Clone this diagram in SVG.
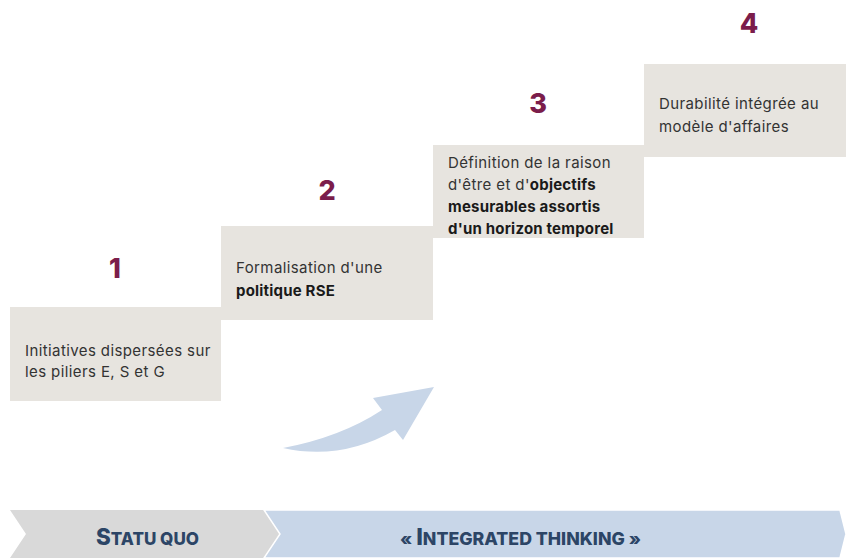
<svg xmlns="http://www.w3.org/2000/svg" width="846" height="558" viewBox="0 0 846 558">
<style>
.box{fill:#e7e4df}
.num{font-family:Inter,"Liberation Sans",sans-serif;font-weight:800;font-size:27px;fill:#7b1d4b;text-anchor:middle}
.t{font-family:Inter,"Open Sans",sans-serif;font-size:15px;letter-spacing:0.4px;fill:#333333}
.b{font-weight:700;fill:#1a1a1a;letter-spacing:0.2px}
.band{font-family:Inter,"Liberation Sans",Arial,sans-serif;font-weight:800;fill:#2c4566}
.big{font-size:23px}
.sm{font-size:17.5px}
</style>
<rect width="846" height="558" fill="#ffffff"/>
<g id="step1">
<rect class="box" x="10" y="307" width="211" height="94"/>
<text class="num" x="115" y="278">1</text>
<text class="t" x="25" y="356">Initiatives dispersées sur</text>
<text class="t" x="25" y="377">les piliers E, S et G</text>
</g>
<g id="step2">
<rect class="box" x="221" y="226" width="212" height="94"/>
<text class="num" x="327" y="200">2</text>
<text class="t" x="236" y="273">Formalisation d'une</text>
<text class="t b" x="236" y="296">politique RSE</text>
</g>
<g id="step3">
<rect class="box" x="433" y="145" width="211" height="93"/>
<text class="num" x="538" y="113">3</text>
<text class="t" x="448" y="168">Définition de la raison</text>
<text class="t" x="448" y="190">d'être et d'<tspan class="b">objectifs</tspan></text>
<text class="t b" x="448" y="212">mesurables assortis</text>
<text class="t b" x="448" y="234">d'un horizon temporel</text>
</g>
<g id="step4">
<rect class="box" x="644" y="64" width="202" height="93"/>
<text class="num" x="749" y="33">4</text>
<text class="t" x="659" y="109">Durabilité intégrée au</text>
<text class="t" x="659" y="132">modèle d'affaires</text>
</g>
<g id="connectors">
<path d="M283,448 Q341,437 382,410 L373,398 L434,387 L403,440 L395,430 Q341,461 283,448 Z" fill="#c8d6e8"/>
</g>
<g id="band-statu-quo">
<path d="M10,510 L264,510 L280,534 L264,558 L10,558 L26,534 Z" fill="#d9d9d9"/>
<text class="band" x="96" y="545" textLength="103" lengthAdjust="spacingAndGlyphs"><tspan class="big">S</tspan><tspan class="sm">TATU QUO</tspan></text>
</g>
<g id="band-integrated">
<path d="M264,510 L840,510 L846,534 L840,558 L264,558 L280,534 Z" fill="#c8d6e8" stroke="#ffffff" stroke-width="1.5"/>
<text class="band" x="400" y="545" textLength="241" lengthAdjust="spacingAndGlyphs"><tspan class="sm">« </tspan><tspan class="big">I</tspan><tspan class="sm">NTEGRATED THINKING »</tspan></text>
</g>
</svg>
